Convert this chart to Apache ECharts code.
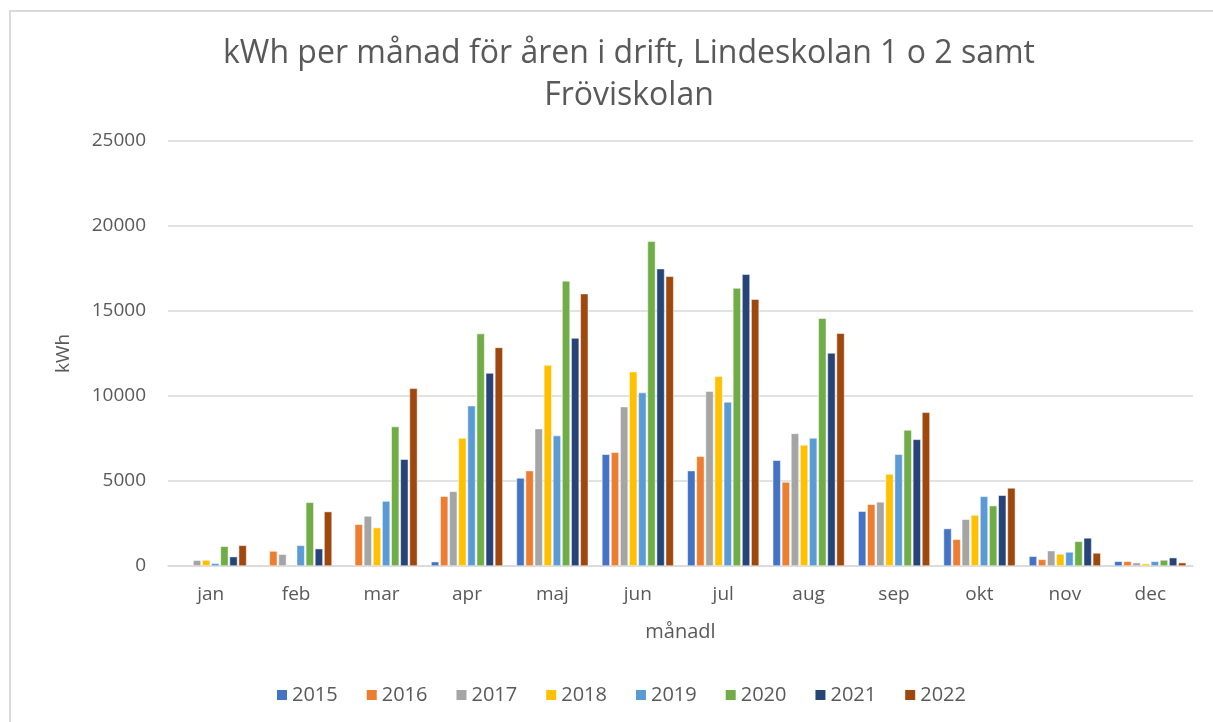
<!DOCTYPE html>
<html>
<head>
<meta charset="utf-8">
<script src="https://cdn.jsdelivr.net/npm/echarts@6/dist/echarts.min.js"></script>
<style>
html,body{margin:0;padding:0;background:#fff;}
#c{width:1213px;height:722px;}
</style>
</head>
<body>
<div id="c"></div>
<script>
const months = ['jan','feb','mar','apr','maj','jun','jul','aug','sep','okt','nov','dec'];
const years = ['2015','2016','2017','2018','2019','2020','2021','2022'];
const y2015 = [null, null, null, 255, 5180, 6570, 5610, 6220, 3220, 2200, 570, 275];
const y2016 = [null, 880, 2450, 4100, 5610, 6690, 6450, 4940, 3630, 1570, 390, 275];
const y2017 = [340, 690, 2940, 4390, 8080, 9370, 10280, 7800, 3770, 2750, 900, 196];
const y2018 = [350, null, 2260, 7530, 11820, 11430, 11160, 7120, 5410, 3000, 706, 137];
const y2019 = [160, 1215, 3820, 9430, 7670, 10200, 9650, 7530, 6570, 4100, 824, 275];
const y2020 = [1160, 3745, 8200, 13670, 16770, 19100, 16350, 14570, 8000, 3550, 1450, 353];
const y2021 = [550, 1020, 6280, 11350, 13410, 17490, 17160, 12530, 7450, 4160, 1650, 490];
const y2022 = [1215, 3200, 10450, 12860, 16020, 17040, 15690, 13690, 9040, 4590, 765, 196];
const yTicks = [0, 5000, 10000, 15000, 20000, 25000];

const seriesData = [y2015, y2016, y2017, y2018, y2019, y2020, y2021, y2022];
const colors = ['#4472C4','#ED7D31','#A5A5A5','#FFC000','#5B9BD5','#70AD47','#264478','#9E480E'];
const txt = '#595959';
const ff = '"Open Sans", "Noto Sans", sans-serif';

const chart = echarts.init(document.getElementById('c'), null, {renderer: 'canvas'});
chart.setOption({
  animation: false,
  color: colors,
  textStyle: {fontFamily: ff},
  title: {
    text: 'kWh per månad för åren i drift, Lindeskolan 1 o 2 samt\nFröviskolan',
    left: 624,
    top: 28,
    textAlign: 'center',
    textStyle: {fontFamily: ff, fontSize: 32, fontWeight: 'normal', color: txt, lineHeight: 42}
  },
  graphic: [{
    type: 'rect',
    shape: {x: 10, y: 11, width: 1230, height: 730},
    style: {fill: 'none', stroke: '#d9d9d9', lineWidth: 2},
    silent: true
  }],
  legend: {
    data: years,
    left: 270,
    top: 680,
    itemWidth: 12,
    itemHeight: 12,
    itemGap: 27,
    icon: 'rect',
    textStyle: {fontFamily: ff, fontSize: 20, color: txt, padding: [0,0,0,-1]}
  },
  grid: {left: 168, right: 20, top: 141, bottom: 156, containLabel: false},
  xAxis: {
    type: 'category',
    data: months,
    name: 'månadl',
    nameLocation: 'middle',
    nameGap: 56,
    nameTextStyle: {fontFamily: ff, fontSize: 20, color: txt},
    axisLine: {lineStyle: {color: '#d9d9d9', width: 1.5}},
    axisTick: {show: false},
    axisLabel: {fontFamily: ff, fontSize: 19, color: txt, margin: 19}
  },
  yAxis: {
    type: 'value',
    min: 0,
    max: 25000,
    interval: 5000,
    name: 'kWh',
    nameLocation: 'middle',
    nameGap: 95,
    nameTextStyle: {fontFamily: ff, fontSize: 19, color: txt},
    axisLine: {show: false},
    axisTick: {show: false},
    splitLine: {lineStyle: {color: '#d9d9d9', width: 1.5}},
    axisLabel: {fontFamily: ff, fontSize: 19, color: txt, margin: 22,
      formatter: v => yTicks.includes(v) ? String(v) : ''}
  },
  series: years.map((y, i) => ({
    name: y,
    type: 'bar',
    data: seriesData[i],
    barGap: '15%',
    barCategoryGap: '16%',
    itemStyle: {color: colors[i], borderColor: '#ffffff', borderWidth: 0.5}
  }))
});
</script>
</body>
</html>
